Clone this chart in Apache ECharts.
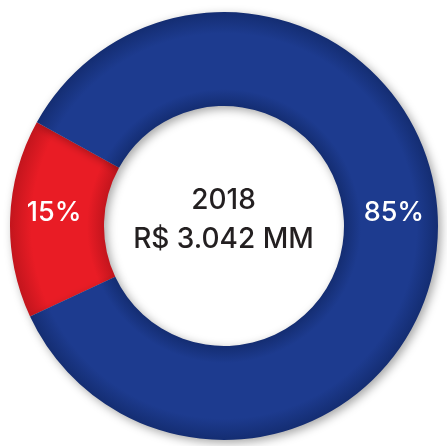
<!DOCTYPE html>
<html>
<head>
<meta charset="utf-8">
<script src="https://cdn.jsdelivr.net/npm/echarts@6/dist/echarts.min.js"></script>
<style>
    html, body { margin: 0; padding: 0; background: #fff; }
    #chart { width: 447px; height: 446px; }
</style>
</head>
<body>
<div id="chart"></div>
<script>
// data
const sliceNames = ['Vermelho', 'Azul']
const sliceValues = [15, 85]
const centerLines = ['2018', 'R$ 3.042 MM']

const CX = 224
const CY = 226
const R_OUT = 214
const R_IN = 120

function ringGradient(base, dark) {
    return {
        type: 'radial',
        x: CX,
        y: CY,
        r: R_OUT,
        global: true,
        colorStops: [
            { offset: 0, color: dark },
            { offset: 0.56, color: dark },
            { offset: 0.64, color: base },
            { offset: 0.9, color: base },
            { offset: 1, color: dark }
        ]
    }
}

const sliceColors = [
    ringGradient('#e91c25', '#c3151d'),
    ringGradient('#1d3b8f', '#142d72')
]
// small nudges so both percent labels sit on the same line
const labelOffsets = [[0, -7], [0, -19]]

const chart = echarts.init(document.getElementById('chart'))
chart.setOption({
    backgroundColor: '#ffffff',
    animation: false,
    title: {
        text: centerLines.join('\n'),
        left: 'center',
        top: 176,
        textStyle: {
            fontFamily: 'Inter',
            fontSize: 28,
            fontWeight: 500,
            lineHeight: 39,
            color: '#231f20'
        }
    },
    series: [
        {
            type: 'pie',
            center: [CX, CY],
            radius: [R_IN, R_OUT],
            startAngle: 205,
            clockwise: true,
            label: {
                show: true,
                position: 'inside',
                formatter: '{d}%',
                color: '#ffffff',
                fontFamily: 'Inter',
                fontSize: 27,
                fontWeight: 500
            },
            labelLine: { show: false },
            itemStyle: {
                borderWidth: 0,
                shadowBlur: 10,
                shadowOffsetX: 3,
                shadowOffsetY: 3,
                shadowColor: 'rgba(0, 0, 0, 0.35)'
            },
            emphasis: { disabled: true },
            data: sliceValues.map((v, i) => ({
                value: v,
                name: sliceNames[i],
                itemStyle: { color: sliceColors[i] },
                label: { offset: labelOffsets[i] }
            }))
        }
    ]
})
</script>
</body>
</html>
